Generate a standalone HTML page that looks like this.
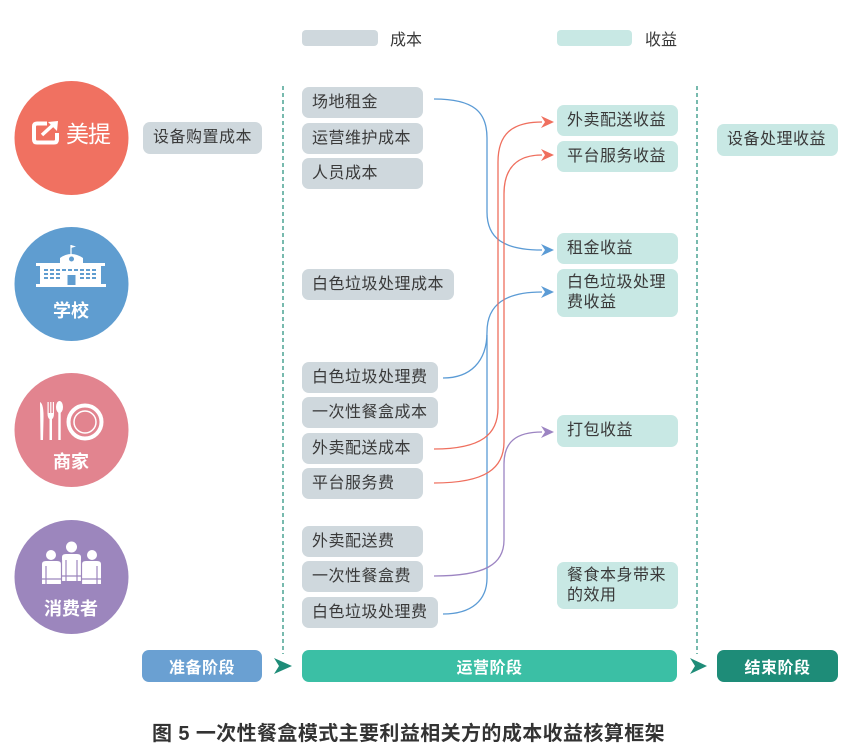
<!DOCTYPE html>
<html><head><meta charset="utf-8">
<style>
*{margin:0;padding:0;box-sizing:border-box}
body{width:858px;height:750px;background:#fff;position:relative;overflow:hidden;font-family:"Liberation Sans","Noto Sans CJK SC",sans-serif;color:#3a3a3a}
.b{position:absolute;border-radius:7px;font-size:16px;letter-spacing:0.5px;padding-left:10px;display:flex;align-items:center;line-height:20px}
.c{background:#CFD8DD}
.r{background:#C8E8E4}
.t{position:absolute;font-size:16px}
.st{position:absolute;border-radius:7px;color:#fff;font-weight:bold;font-size:16px;display:flex;align-items:center;justify-content:center;height:32px;top:650px;letter-spacing:0.5px}
svg{position:absolute;left:0;top:0}
.lbl{position:absolute;color:#fff;font-weight:bold;font-size:18px;width:114px;text-align:center;left:14px}
</style></head><body>
<svg width="858" height="750" viewBox="0 0 858 750">
  <circle cx="71.5" cy="138" r="57" fill="#F07161"/>
  <circle cx="71.5" cy="284" r="57" fill="#5F9DD0"/>
  <circle cx="71.5" cy="430" r="57" fill="#E2848F"/>
  <circle cx="71.5" cy="577" r="57" fill="#9C86BD"/>
  <path d="M47,123.5 L37,123.5 Q34,123.5 34,126.5 L34,139.5 Q34,142.5 37,142.5 L54,142.5 Q57,142.5 57,139.5 L57,133" fill="none" stroke="#fff" stroke-width="4"/>
  <path d="M42,135 L53,125" stroke="#fff" stroke-width="3.5"/>
  <polygon points="58,121 48,122 57,131" fill="#fff"/>
  <line x1="71" y1="245" x2="71" y2="255" stroke="#fff" stroke-width="1.2"/>
  <polygon points="71,245 76,246.5 71,248" fill="#fff"/>
  <path d="M60,264 L60,258 Q71,250 83,258 L83,264 Z" fill="#fff"/>
  <circle cx="71.5" cy="259" r="2.5" fill="#5F9DD0"/>
  <rect x="36" y="263" width="69" height="3" fill="#fff"/>
  <rect x="40" y="266" width="61" height="19" fill="#fff"/>
  <rect x="36" y="284" width="70" height="3" fill="#fff"/>
  <g fill="#5F9DD0">
    <rect x="44" y="269" width="4" height="2"/><rect x="50" y="269" width="4" height="2"/><rect x="56" y="269" width="4" height="2"/><rect x="62" y="269" width="4" height="2"/><rect x="68" y="269" width="4" height="2"/><rect x="74" y="269" width="4" height="2"/><rect x="80" y="269" width="4" height="2"/><rect x="86" y="269" width="4" height="2"/><rect x="92" y="269" width="4" height="2"/>
    <rect x="44" y="273" width="4" height="2"/><rect x="50" y="273" width="4" height="2"/><rect x="56" y="273" width="4" height="2"/><rect x="80" y="273" width="4" height="2"/><rect x="86" y="273" width="4" height="2"/><rect x="92" y="273" width="4" height="2"/>
    <rect x="44" y="277" width="4" height="2"/><rect x="50" y="277" width="4" height="2"/><rect x="56" y="277" width="4" height="2"/><rect x="80" y="277" width="4" height="2"/><rect x="86" y="277" width="4" height="2"/><rect x="92" y="277" width="4" height="2"/>
    <rect x="67.5" y="275" width="8" height="10"/>
  </g>
  <g fill="#fff">
    <path d="M40,402 Q44,404 43.5,420 L43,440 L40.5,440 Z"/>
    <rect x="47.5" y="402" width="1.2" height="12"/><rect x="50.2" y="402" width="1.2" height="12"/><rect x="52.8" y="402" width="1.2" height="12"/>
    <path d="M47.5,413 L54,413 Q54,418 52,419 L52,440 L49.5,440 L49.5,419 Q47.5,418 47.5,413 Z"/>
    <ellipse cx="59.5" cy="407" rx="3.5" ry="6"/>
    <rect x="58.3" y="411" width="2.4" height="29"/>
  </g>
  <circle cx="85" cy="422" r="16.5" fill="none" stroke="#fff" stroke-width="4"/>
  <circle cx="85" cy="422" r="11" fill="none" stroke="#fff" stroke-width="1.5"/>
  <g fill="#fff">
    <circle cx="51" cy="555" r="5"/>
    <circle cx="92" cy="555" r="5"/>
    <path d="M42,564 Q42,561 46,561 L57,561 Q61,561 61,564 L61,584 L42,584 Z"/>
    <path d="M82,564 Q82,561 86,561 L97,561 Q101,561 101,564 L101,584 L82,584 Z"/>
    <circle cx="71.5" cy="547" r="5.5"/>
    <path d="M62,557 Q62,554 66,554 L77,554 Q81,554 81,557 L81,581 L62,581 Z"/>
  </g>
  <g stroke="#9C86BD" stroke-width="1.2">
    <line x1="61.5" y1="560" x2="61.5" y2="585"/><line x1="81.5" y1="560" x2="81.5" y2="585"/>
    <line x1="46" y1="566" x2="46" y2="584"/><line x1="97" y1="566" x2="97" y2="584"/>
    <line x1="66" y1="560" x2="66" y2="581"/><line x1="77" y1="560" x2="77" y2="581"/>
    <line x1="42" y1="579" x2="61" y2="579"/><line x1="82" y1="579" x2="101" y2="579"/><line x1="62" y1="576" x2="81" y2="576"/>
  </g>
  <rect x="302" y="30" width="76" height="16" rx="4" fill="#CFD8DD"/>
  <rect x="557" y="30" width="75" height="16" rx="4" fill="#C8E8E4"/>
  <line x1="283" y1="86" x2="283" y2="654" stroke="#1E8C78" stroke-width="1.2" stroke-dasharray="4 3"/>
  <line x1="697" y1="86" x2="697" y2="654" stroke="#1E8C78" stroke-width="1.2" stroke-dasharray="4 3"/>
  <g fill="none" stroke-width="1.3">
    <path d="M434,99 C474,99 487,112 487,138 L487,212 C487,238 503,250 542,250" stroke="#5B9BD5"/>
    <path d="M443,378 C470,378 487,362 487,332 C487,304 506,292 542,292" stroke="#5B9BD5"/>
    <path d="M443,614 C472,614 487,600 487,578 L487,335" stroke="#5B9BD5"/>
    <path d="M434,449 C482,449 498,434 498,408 L498,162 C498,134 512,122 542,122" stroke="#EF6F5E"/>
    <path d="M434,483 C486,483 504,468 504,442 L504,194 C504,167 518,155 542,155" stroke="#EF6F5E"/>
    <path d="M434,576 C486,576 504,564 504,540 L504,464 C504,442 516,432 542,432" stroke="#9C84C2"/>
  </g>
  <g>
    <polygon points="554,250 541,244 545,250 541,256" fill="#5B9BD5"/>
    <polygon points="554,292 541,286 545,292 541,298" fill="#5B9BD5"/>
    <polygon points="554,122 541,116 545,122 541,128" fill="#EF6F5E"/>
    <polygon points="554,155 541,149 545,155 541,161" fill="#EF6F5E"/>
    <polygon points="554,432 541,426 545,432 541,438" fill="#9C84C2"/>
  </g>
  <polygon points="292,666 274,658 279,666 274,674" fill="#1E8C78"/>
  <polygon points="707,666 690,658 695,666 690,674" fill="#1E8C78"/>
</svg>

<div style="position:absolute;left:66px;top:121px;color:#fff;font-size:23px;letter-spacing:-1px;line-height:26px">美提</div>
<div class="lbl" style="top:297px">学校</div>
<div class="lbl" style="top:448px">商家</div>
<div class="lbl" style="top:595px">消费者</div>

<div class="t" style="left:390px;top:26px">成本</div>
<div class="t" style="left:645px;top:26px">收益</div>

<div class="b c" style="left:143px;top:122px;width:119px;height:32px">设备购置成本</div>

<div class="b c" style="left:302px;top:87px;width:121px;height:31px">场地租金</div>
<div class="b c" style="left:302px;top:123px;width:121px;height:31px">运营维护成本</div>
<div class="b c" style="left:302px;top:158px;width:121px;height:31px">人员成本</div>
<div class="b c" style="left:302px;top:269px;width:152px;height:31px">白色垃圾处理成本</div>
<div class="b c" style="left:302px;top:362px;width:136px;height:31px">白色垃圾处理费</div>
<div class="b c" style="left:302px;top:397px;width:136px;height:31px">一次性餐盒成本</div>
<div class="b c" style="left:302px;top:433px;width:121px;height:31px">外卖配送成本</div>
<div class="b c" style="left:302px;top:468px;width:121px;height:31px">平台服务费</div>
<div class="b c" style="left:302px;top:526px;width:121px;height:31px">外卖配送费</div>
<div class="b c" style="left:302px;top:561px;width:121px;height:31px">一次性餐盒费</div>
<div class="b c" style="left:302px;top:597px;width:136px;height:31px">白色垃圾处理费</div>

<div class="b r" style="left:557px;top:105px;width:121px;height:31px">外卖配送收益</div>
<div class="b r" style="left:557px;top:141px;width:121px;height:31px">平台服务收益</div>
<div class="b r" style="left:557px;top:233px;width:121px;height:31px">租金收益</div>
<div class="b r" style="left:557px;top:269px;width:121px;height:48px">白色垃圾处理<br>费收益</div>
<div class="b r" style="left:557px;top:415px;width:121px;height:32px">打包收益</div>
<div class="b r" style="left:557px;top:562px;width:121px;height:47px">餐食本身带来<br>的效用</div>

<div class="b r" style="left:717px;top:124px;width:121px;height:32px">设备处理收益</div>

<div class="st" style="left:142px;width:120px;background:#6AA0D2">准备阶段</div>
<div class="st" style="left:302px;width:375px;background:#3BBFA5">运营阶段</div>
<div class="st" style="left:717px;width:121px;background:#1E8C78">结束阶段</div>

<div style="position:absolute;left:152px;top:717px;font-size:20px;font-weight:bold;color:#333;white-space:nowrap;letter-spacing:0.4px">图 5 一次性餐盒模式主要利益相关方的成本收益核算框架</div>
</body></html>
